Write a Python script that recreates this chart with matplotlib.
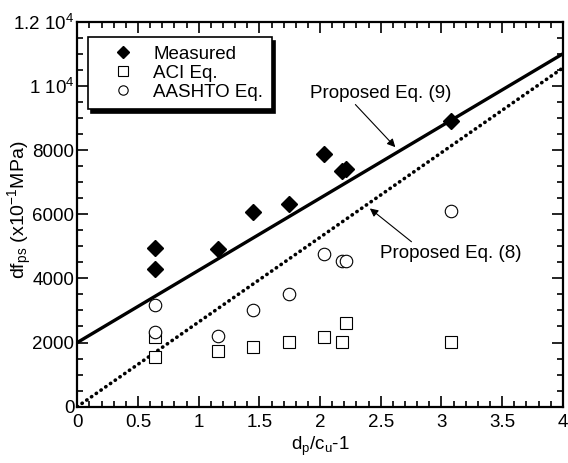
import numpy as np
import matplotlib
matplotlib.use('Agg')
import matplotlib.pyplot as plt
from matplotlib.ticker import MultipleLocator, FixedLocator, FixedFormatter

# data
x_pts = [0.64, 0.64, 1.16, 1.45, 1.74, 2.03, 2.18, 2.21, 3.08]
measured = [4950, 4300, 4900, 6070, 6320, 7870, 7350, 7400, 8900]
aci = [2180, 1560, 1750, 1870, 2020, 2170, 2020, 2620, 2020]
aashto = [3170, 2320, 2200, 3010, 3500, 4770, 4550, 4550, 6110]

# proposed equations (straight lines)
eq9_icpt, eq9_slope = 2000, 2250
eq8_icpt, eq8_slope = 0, 2640

yticks = [0, 2000, 4000, 6000, 8000, 10000, 12000]
ytick_labels = ['0', '2000', '4000', '6000', '8000', r'1 10$^4$', r'1.2 10$^4$']

plt.rcParams['font.family'] = ['Liberation Sans', 'DejaVu Sans']
plt.rcParams['mathtext.fontset'] = 'custom'
plt.rcParams['mathtext.rm'] = 'Liberation Sans'
plt.rcParams['mathtext.it'] = 'Liberation Sans'
fs = 13.5

fig = plt.figure(figsize=(5.68, 4.63), dpi=100)
ax = fig.add_axes([0.136, 0.1216, 0.855, 0.8315])

xl = np.array([0, 4])
ax.plot(xl, eq9_icpt + eq9_slope * xl, color='black', lw=2.4, zorder=2)
ax.plot(xl, eq8_icpt + eq8_slope * xl, color='black', lw=2.6,
        linestyle=(0, (0.1, 1.5)), dash_capstyle='round', zorder=2)

ax.plot(x_pts, measured, 'D', color='black', ms=8, label='Measured', zorder=3)
ax.plot(x_pts, aci, 's', mfc='white', mec='black', mew=0.8, ms=9, label='ACI Eq.', zorder=3)
ax.plot(x_pts, aashto, 'o', mfc='white', mec='black', mew=0.8, ms=9, label='AASHTO Eq.', zorder=3)

ax.annotate('Proposed Eq. (9)', xy=(2.62, 8090), xytext=(1.92, 9770),
            fontsize=fs, va='center', ha='left',
            arrowprops=dict(arrowstyle='-|>', color='black', lw=0.8,
                            shrinkA=0, shrinkB=0, mutation_scale=12,
                            relpos=(0.3, 0.0)))
ax.annotate('Proposed Eq. (8)', xy=(2.41, 6180), xytext=(2.49, 4790),
            fontsize=fs, va='center', ha='left',
            arrowprops=dict(arrowstyle='-|>', color='black', lw=0.8,
                            shrinkA=0, shrinkB=0, mutation_scale=12,
                            relpos=(0.25, 1.0)))

ax.set_xlim(0, 4)
ax.set_ylim(0, 12000)
ax.xaxis.set_major_locator(MultipleLocator(0.5))
ax.xaxis.set_minor_locator(MultipleLocator(0.1))
ax.yaxis.set_major_locator(FixedLocator(yticks))
ax.yaxis.set_major_formatter(FixedFormatter(ytick_labels))
ax.yaxis.set_minor_locator(MultipleLocator(500))
ax.xaxis.set_major_formatter(plt.FuncFormatter(lambda v, p: '%g' % v))
ax.tick_params(which='both', direction='in', top=True, right=True, labelsize=fs, width=1.2)
ax.tick_params(which='major', length=8)
ax.tick_params(axis='x', which='major', pad=5)
ax.tick_params(axis='y', which='major', pad=2)
ax.tick_params(which='minor', length=4)
for s in ax.spines.values():
    s.set_linewidth(1.6)

ax.set_xlabel(r'd$_{\mathrm{p}}$/c$_{\mathrm{u}}$-1', fontsize=fs, labelpad=3)
fig.text(20 / 568, 1 - 210 / 463, r'df$_{\mathrm{ps}}$ (x10$^{-1}$MPa)', fontsize=fs + 0.5,
         rotation=90, ha='center', va='center')

leg = ax.legend(loc='upper left', bbox_to_anchor=(0.0217, 0.960), borderaxespad=0,
                fontsize=fs, fancybox=False, frameon=True, markerscale=0.75,
                edgecolor='black', borderpad=0.45, handlelength=2.9, handletextpad=0.15,
                labelspacing=0.1,
                shadow={'color': 'black', 'alpha': 1.0, 'ox': 2.5, 'oy': -2.5})
leg.get_frame().set_linewidth(1.2)
leg.get_frame().set_alpha(1.0)

fig.savefig('out.png', dpi=100)
